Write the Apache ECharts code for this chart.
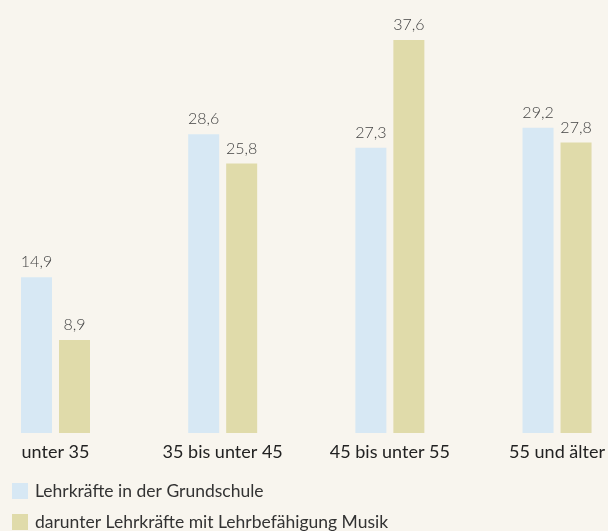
<!DOCTYPE html>
<html>
<head>
<meta charset="utf-8">
<script src="https://cdn.jsdelivr.net/npm/echarts@6/dist/echarts.min.js"></script>
<style>
  html, body { margin: 0; padding: 0; background: #f8f5ee; }
  #chart { width: 608px; height: 531px; }
</style>
</head>
<body>
<div id="chart"></div>
<script>
// Altersgruppen
var categories = ['unter 35', '35 bis unter 45', '45 bis unter 55', '55 und älter']
var seriesNames = ['Lehrkräfte in der Grundschule', 'darunter Lehrkräfte mit Lehrbefähigung Musik']
var grundschule = [14.9, 28.6, 27.3, 29.2]
var musik = [8.9, 25.8, 37.6, 27.8]

var fmt = function (p) { return String(p.value).replace('.', ',') }

// one legend per row, stacked under the chart
var legendRow = function (name, top) {
  return {
    left: 12,
    top: top,
    padding: 0,
    itemWidth: 16,
    itemHeight: 16,
    icon: 'rect',
    data: [name],
    textStyle: { fontSize: 17.5, color: '#333', fontFamily: 'Lato', padding: [0, 0, 0, 2] }
  }
}

var chart = echarts.init(document.getElementById('chart'))
chart.setOption({
  backgroundColor: '#f8f5ee',
  textStyle: { fontFamily: 'Lato' },
  legend: [legendRow(seriesNames[0], 482), legendRow(seriesNames[1], 513)],
  // ticks sit at the centre of each bar pair
  grid: { left: 55.5, right: 50.5, top: 15, bottom: 98 },
  xAxis: {
    type: 'category',
    data: categories,
    boundaryGap: false,
    axisLine: { show: false },
    axisTick: { show: false },
    splitLine: { show: false },
    axisLabel: {
      margin: 10,
      fontSize: 18,
      color: '#222',
      fontFamily: 'Lato',
      interval: 0
    }
  },
  yAxis: { type: 'value', min: 0, max: 40, show: false },
  series: [
    {
      name: seriesNames[0],
      type: 'bar',
      data: grundschule,
      barWidth: 31,
      barGap: '22.6%',
      itemStyle: { color: '#d7e8f4' },
      label: {
        show: true,
        position: 'top',
        distance: 7,
        fontSize: 16,
        fontWeight: 300,
        color: '#444',
        fontFamily: 'Lato',
        formatter: fmt
      }
    },
    {
      name: seriesNames[1],
      type: 'bar',
      data: musik,
      barWidth: 31,
      itemStyle: { color: '#e0dbaa' },
      label: {
        show: true,
        position: 'top',
        distance: 7,
        fontSize: 16,
        fontWeight: 300,
        color: '#444',
        fontFamily: 'Lato',
        formatter: fmt
      }
    }
  ]
})
</script>
</body>
</html>
